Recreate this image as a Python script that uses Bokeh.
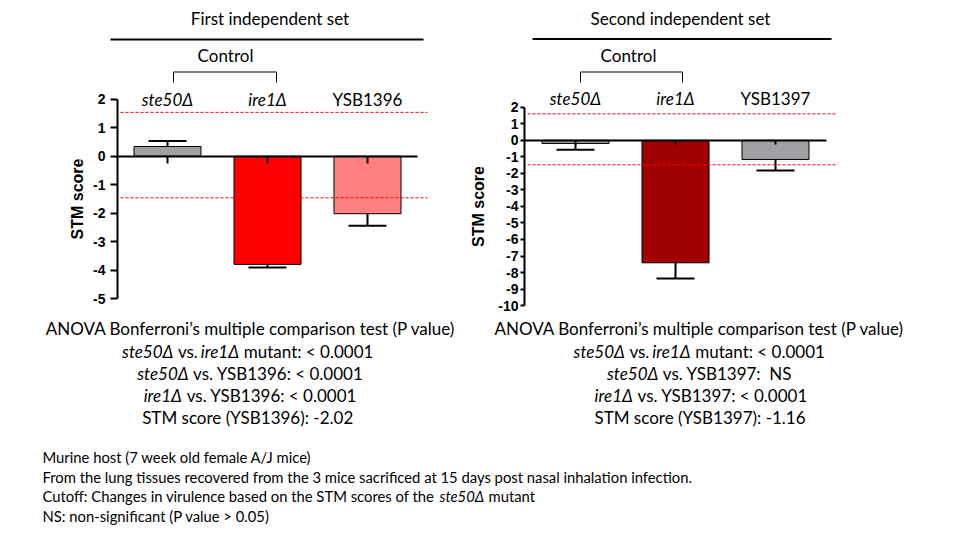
import numpy as np
from bokeh.plotting import figure
from bokeh.models import Range1d, LinearAxis, FixedTicker
from bokeh.core.properties import value
from bokeh.embed import file_html
from bokeh.resources import INLINE

# ---------------- data ----------------
categories_1 = ["ste50Δ", "ire1Δ", "YSB1396"]
stm_1 = [0.34, -3.80, -2.02]
sem_1 = [0.19, 0.11, 0.42]
cutoff_1 = [1.54, -1.46]
ticks_1 = [-5, -4, -3, -2, -1, 0, 1, 2]

categories_2 = ["ste50Δ", "ire1Δ", "YSB1397"]
stm_2 = [-0.19, -7.41, -1.16]
sem_2 = [0.38, 0.95, 0.66]
cutoff_2 = [1.60, -1.48]
ticks_2 = [-10, -9, -8, -7, -6, -5, -4, -3, -2, -1, 0, 1, 2]

# ---------------- styles ----------------
colors_1 = ["#A0A0A4", "#FF0000", "#FF8080"]
colors_2 = ["#A0A0A4", "#A00000", "#A0A0A4"]
cat_styles = ["italic", "italic", "normal"]

W, H = 960, 535
PX0, PY0 = 0, 0
FONT = "Lato"
FS = 17     # main text size
FN = 14.8   # footnote size

p = figure(width=W, height=H, x_range=Range1d(PX0, PX0 + W), y_range=Range1d(PY0 + H, PY0),
           output_backend="svg", toolbar_location=None, x_axis_type=None, y_axis_type=None,
           min_border=0, outline_line_color=None)


def put(x, y, s, size=FS, style="normal", align="left", font=FONT):
    p.text(x=[x], y=[y], text=[s], text_font=value(font), text_font_size=f"{size}px",
           text_font_style=style, text_align=align, text_baseline="middle",
           text_color="black")


def panel(tag, cats, vals, errs, colors, cut, ticks, x_first, y_zero, y_unit,
          axis_x, tick_len, lab_standoff, title_standoff, cat_y):
    kx, ky = tag + "x", tag + "y"
    step = 100.0
    p.extra_x_ranges[kx] = Range1d((PX0 - x_first) / step, (PX0 + W - x_first) / step)
    p.extra_y_ranges[ky] = Range1d(-(PY0 + H - y_zero) / y_unit, (y_zero - PY0) / y_unit)
    rn = dict(x_range_name=kx, y_range_name=ky)
    idx = np.arange(len(cats), dtype=float)
    v = np.array(vals)
    e = np.array(errs)
    ends = v + np.sign(v) * e
    p.vbar(x=idx, top=v, bottom=0, width=0.67, fill_color=colors, line_color="black",
           line_width=1, **rn)
    p.segment(x0=idx, y0=v, x1=idx, y1=ends, line_color="black", line_width=2, **rn)
    p.segment(x0=idx - 0.19, y0=ends, x1=idx + 0.19, y1=ends, line_color="black",
              line_width=2, **rn)
    p.segment(x0=[axis_x + 0.03] * len(cut), y0=cut, x1=[idx[-1] + 0.6] * len(cut), y1=cut,
              line_color="red", line_width=1, line_dash="3 2", **rn)

    xax = LinearAxis(fixed_location=0, bounds=(axis_x, idx[-1] - axis_x),
                     ticker=FixedTicker(ticks=list(idx)),
                     major_label_overrides={float(i): "" for i in idx}, **rn)
    xax.axis_line_width = 2
    xax.major_tick_line_width = 2
    xax.major_tick_out = tick_len
    xax.major_tick_in = 0
    xax.minor_tick_line_color = None
    p.add_layout(xax, "below")

    yax = LinearAxis(fixed_location=axis_x, bounds=(ticks[0], ticks[-1]),
                     ticker=FixedTicker(ticks=ticks),
                     major_label_overrides={t: str(t) for t in ticks},
                     axis_label="STM score", **rn)
    yax.axis_line_width = 2
    yax.major_tick_line_width = 2
    yax.major_tick_out = tick_len
    yax.major_tick_in = 0
    yax.minor_tick_line_color = None
    yax.major_label_text_font = "Liberation Sans"
    yax.major_label_text_font_style = "bold"
    yax.major_label_text_font_size = "14px"
    yax.major_label_text_color = "black"
    yax.major_label_standoff = lab_standoff
    yax.axis_label_text_font = "Liberation Sans"
    yax.axis_label_text_font_style = "bold"
    yax.axis_label_text_font_size = "16px"
    yax.axis_label_text_color = "black"
    yax.axis_label_standoff = title_standoff
    p.add_layout(yax, "left")

    for i, c in enumerate(cats):
        p.text(x=[idx[i]], y=[cat_y], text=[c], text_font=value(FONT), text_font_size=f"{FS}px",
               text_font_style=cat_styles[i], text_align="center", text_baseline="middle",
               text_color="black", x_range_name=kx)


panel("L", categories_1, stm_1, sem_1, colors_1, cutoff_1, ticks_1,
      x_first=167, y_zero=155.7, y_unit=28.47, axis_x=-0.5, tick_len=7,
      lab_standoff=5, title_standoff=4, cat_y=99)
panel("R", categories_2, stm_2, sem_2, colors_2, cutoff_2, ticks_2,
      x_first=575, y_zero=139.8, y_unit=16.53, axis_x=-0.51, tick_len=4,
      lab_standoff=2, title_standoff=8, cat_y=98)

# ---------------- headers ----------------
put(269.5, 18, "First independent set", align="center")
put(680, 18, "Second independent set", align="center")
p.segment(x0=[110, 532], y0=[39, 38.5], x1=[423, 831], y1=[39, 38.5], line_color="black", line_width=2)
put(225, 55, "Control", align="center")
put(628, 55, "Control", align="center")
for a, b in [(173, 276), (580, 682)]:
    p.segment(x0=[a, a, b], y0=[71.5, 71.5, 71.5], x1=[b, a, b], y1=[71.5, 82, 82],
              line_color="black", line_width=1)

# ---------------- ANOVA text ----------------
put(250.3, 328, "ANOVA Bonferroni’s multiple comparison test (P value)", align="center")
put(121.6, 350.5, "ste50Δ", style="italic")
put(177.4, 350.5, "vs.")
put(200.3, 350.5, "ire1Δ", style="italic")
put(243.3, 350.5, "mutant: < 0.0001")
put(136.8, 372.5, "ste50Δ", style="italic")
put(192.6, 372.5, "vs. YSB1396: < 0.0001")
put(143.2, 394.5, "ire1Δ", style="italic")
put(186.2, 394.5, "vs. YSB1396: < 0.0001")
put(247.2, 416.5, "STM score (YSB1396): -2.02", align="center")

put(699, 328, "ANOVA Bonferroni’s multiple comparison test (P value)", align="center")
put(573.1, 350.5, "ste50Δ", style="italic")
put(628.9, 350.5, "vs.")
put(651.8, 350.5, "ire1Δ", style="italic")
put(694.8, 350.5, "mutant: < 0.0001")
put(606.5, 372.5, "ste50Δ", style="italic")
put(662.3, 372.5, "vs. YSB1397: \u00a0NS")
put(594.1, 394.5, "ire1Δ", style="italic")
put(637.1, 394.5, "vs. YSB1397: < 0.0001")
put(699.5, 416.5, "STM score (YSB1397): -1.16", align="center")

# ---------------- footnotes ----------------
put(42, 456.5, "Murine host (7 week old female A/J mice)", FN)
put(42, 476, "From the lung tissues recovered from the 3 mice sacrificed at 15 days post nasal inhalation infection.", FN)
put(42, 495.5, "Cutoff: Changes in virulence based on the STM scores of the", FN)
put(439, 495.5, "ste50Δ", FN, "italic")
put(488, 495.5, "mutant", FN)
put(42, 515, "NS: non-significant (P value > 0.05)", FN)

open("out.html", "w").write(file_html(p, INLINE))
